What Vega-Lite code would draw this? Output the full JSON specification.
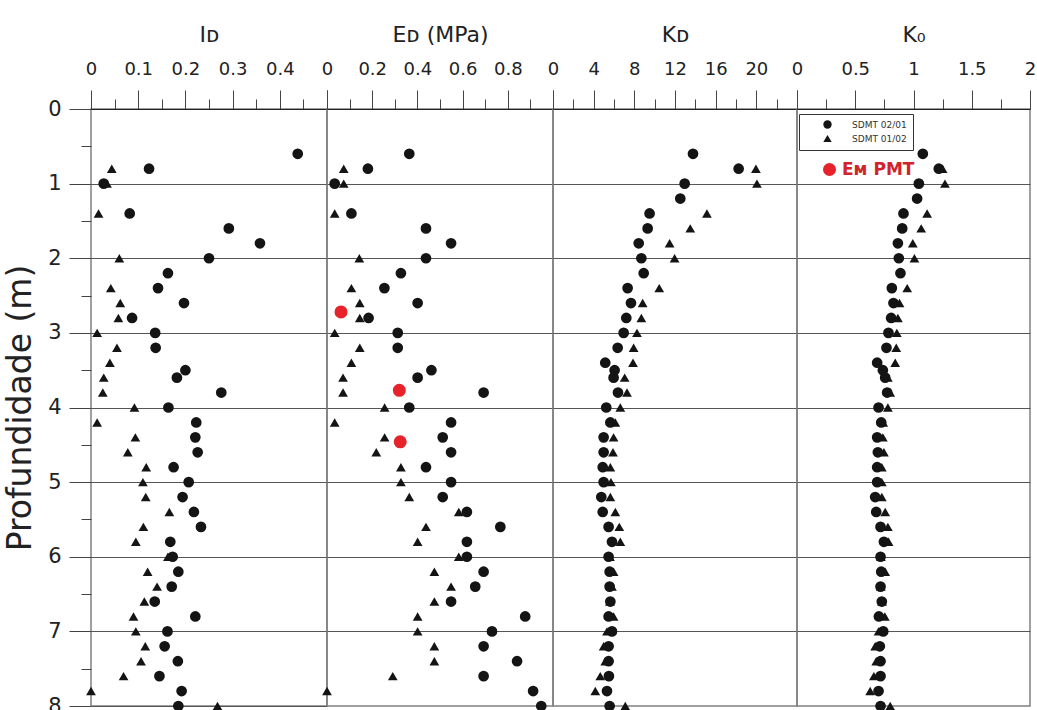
{
  "$schema": "https://vega.github.io/schema/vega-lite/v6.json",
  "padding": {"left": 3, "top": 22, "right": 2, "bottom": 0},
  "autosize": {"type": "pad"},
  "spacing": 0,
  "bounds": "flush",
  "config": {
    "view": {"stroke": "#808080", "strokeWidth": 1.5},
    "axis": {"labelFont": "DejaVu Sans", "titleFont": "DejaVu Sans", "labelColor": "#222", "titleColor": "#222", "titleFontWeight": "normal", "tickColor": "#444", "domainColor": "#222", "labelOverlap": false, "labelFlush": false, "labelBound": false},
    "legend": {"labelFont": "DejaVu Sans"}
  },
  "datasets": {
    "ID": [
      {"series":"SDMT 01/02","method":"SDMT","depth":0.8,"value":0.044},
      {"series":"SDMT 01/02","method":"SDMT","depth":1.0,"value":0.034},
      {"series":"SDMT 01/02","method":"SDMT","depth":1.4,"value":0.016},
      {"series":"SDMT 01/02","method":"SDMT","depth":2.0,"value":0.06},
      {"series":"SDMT 01/02","method":"SDMT","depth":2.4,"value":0.042},
      {"series":"SDMT 01/02","method":"SDMT","depth":2.6,"value":0.062},
      {"series":"SDMT 01/02","method":"SDMT","depth":2.8,"value":0.058},
      {"series":"SDMT 01/02","method":"SDMT","depth":3.0,"value":0.013},
      {"series":"SDMT 01/02","method":"SDMT","depth":3.2,"value":0.055},
      {"series":"SDMT 01/02","method":"SDMT","depth":3.4,"value":0.04},
      {"series":"SDMT 01/02","method":"SDMT","depth":3.6,"value":0.027},
      {"series":"SDMT 01/02","method":"SDMT","depth":3.8,"value":0.025},
      {"series":"SDMT 01/02","method":"SDMT","depth":4.0,"value":0.092},
      {"series":"SDMT 01/02","method":"SDMT","depth":4.2,"value":0.013},
      {"series":"SDMT 01/02","method":"SDMT","depth":4.4,"value":0.094},
      {"series":"SDMT 01/02","method":"SDMT","depth":4.6,"value":0.078},
      {"series":"SDMT 01/02","method":"SDMT","depth":4.8,"value":0.117},
      {"series":"SDMT 01/02","method":"SDMT","depth":5.0,"value":0.11},
      {"series":"SDMT 01/02","method":"SDMT","depth":5.2,"value":0.116},
      {"series":"SDMT 01/02","method":"SDMT","depth":5.4,"value":0.166},
      {"series":"SDMT 01/02","method":"SDMT","depth":5.6,"value":0.111},
      {"series":"SDMT 01/02","method":"SDMT","depth":5.8,"value":0.095},
      {"series":"SDMT 01/02","method":"SDMT","depth":6.0,"value":0.163},
      {"series":"SDMT 01/02","method":"SDMT","depth":6.2,"value":0.12},
      {"series":"SDMT 01/02","method":"SDMT","depth":6.4,"value":0.14},
      {"series":"SDMT 01/02","method":"SDMT","depth":6.6,"value":0.113},
      {"series":"SDMT 01/02","method":"SDMT","depth":6.8,"value":0.09},
      {"series":"SDMT 01/02","method":"SDMT","depth":7.0,"value":0.095},
      {"series":"SDMT 01/02","method":"SDMT","depth":7.2,"value":0.115},
      {"series":"SDMT 01/02","method":"SDMT","depth":7.4,"value":0.106},
      {"series":"SDMT 01/02","method":"SDMT","depth":7.6,"value":0.069},
      {"series":"SDMT 01/02","method":"SDMT","depth":7.8,"value":0.0},
      {"series":"SDMT 01/02","method":"SDMT","depth":8.0,"value":0.268},
      {"series":"SDMT 02/01","method":"SDMT","depth":0.6,"value":0.438},
      {"series":"SDMT 02/01","method":"SDMT","depth":0.8,"value":0.123},
      {"series":"SDMT 02/01","method":"SDMT","depth":1.0,"value":0.027},
      {"series":"SDMT 02/01","method":"SDMT","depth":1.4,"value":0.082},
      {"series":"SDMT 02/01","method":"SDMT","depth":1.6,"value":0.292},
      {"series":"SDMT 02/01","method":"SDMT","depth":1.8,"value":0.358},
      {"series":"SDMT 02/01","method":"SDMT","depth":2.0,"value":0.25},
      {"series":"SDMT 02/01","method":"SDMT","depth":2.2,"value":0.163},
      {"series":"SDMT 02/01","method":"SDMT","depth":2.4,"value":0.142},
      {"series":"SDMT 02/01","method":"SDMT","depth":2.6,"value":0.197},
      {"series":"SDMT 02/01","method":"SDMT","depth":2.8,"value":0.087},
      {"series":"SDMT 02/01","method":"SDMT","depth":3.0,"value":0.136},
      {"series":"SDMT 02/01","method":"SDMT","depth":3.2,"value":0.137},
      {"series":"SDMT 02/01","method":"SDMT","depth":3.5,"value":0.2},
      {"series":"SDMT 02/01","method":"SDMT","depth":3.6,"value":0.182},
      {"series":"SDMT 02/01","method":"SDMT","depth":3.8,"value":0.276},
      {"series":"SDMT 02/01","method":"SDMT","depth":4.0,"value":0.164},
      {"series":"SDMT 02/01","method":"SDMT","depth":4.2,"value":0.223},
      {"series":"SDMT 02/01","method":"SDMT","depth":4.4,"value":0.221},
      {"series":"SDMT 02/01","method":"SDMT","depth":4.6,"value":0.226},
      {"series":"SDMT 02/01","method":"SDMT","depth":4.8,"value":0.175},
      {"series":"SDMT 02/01","method":"SDMT","depth":5.0,"value":0.207},
      {"series":"SDMT 02/01","method":"SDMT","depth":5.2,"value":0.194},
      {"series":"SDMT 02/01","method":"SDMT","depth":5.4,"value":0.218},
      {"series":"SDMT 02/01","method":"SDMT","depth":5.6,"value":0.233},
      {"series":"SDMT 02/01","method":"SDMT","depth":5.8,"value":0.168},
      {"series":"SDMT 02/01","method":"SDMT","depth":6.0,"value":0.173},
      {"series":"SDMT 02/01","method":"SDMT","depth":6.2,"value":0.185},
      {"series":"SDMT 02/01","method":"SDMT","depth":6.4,"value":0.171},
      {"series":"SDMT 02/01","method":"SDMT","depth":6.6,"value":0.135},
      {"series":"SDMT 02/01","method":"SDMT","depth":6.8,"value":0.221},
      {"series":"SDMT 02/01","method":"SDMT","depth":7.0,"value":0.162},
      {"series":"SDMT 02/01","method":"SDMT","depth":7.2,"value":0.156},
      {"series":"SDMT 02/01","method":"SDMT","depth":7.4,"value":0.184},
      {"series":"SDMT 02/01","method":"SDMT","depth":7.6,"value":0.145},
      {"series":"SDMT 02/01","method":"SDMT","depth":7.8,"value":0.192},
      {"series":"SDMT 02/01","method":"SDMT","depth":8.0,"value":0.185}
    ],
    "ED": [
      {"series":"SDMT 01/02","method":"SDMT","depth":0.8,"value":0.074},
      {"series":"SDMT 01/02","method":"SDMT","depth":1.0,"value":0.074},
      {"series":"SDMT 01/02","method":"SDMT","depth":1.4,"value":0.034},
      {"series":"SDMT 01/02","method":"SDMT","depth":2.0,"value":0.143},
      {"series":"SDMT 01/02","method":"SDMT","depth":2.4,"value":0.108},
      {"series":"SDMT 01/02","method":"SDMT","depth":2.6,"value":0.145},
      {"series":"SDMT 01/02","method":"SDMT","depth":2.8,"value":0.145},
      {"series":"SDMT 01/02","method":"SDMT","depth":3.0,"value":0.034},
      {"series":"SDMT 01/02","method":"SDMT","depth":3.2,"value":0.145},
      {"series":"SDMT 01/02","method":"SDMT","depth":3.4,"value":0.108},
      {"series":"SDMT 01/02","method":"SDMT","depth":3.6,"value":0.071},
      {"series":"SDMT 01/02","method":"SDMT","depth":3.8,"value":0.071},
      {"series":"SDMT 01/02","method":"SDMT","depth":4.0,"value":0.255},
      {"series":"SDMT 01/02","method":"SDMT","depth":4.2,"value":0.034},
      {"series":"SDMT 01/02","method":"SDMT","depth":4.4,"value":0.255},
      {"series":"SDMT 01/02","method":"SDMT","depth":4.6,"value":0.218},
      {"series":"SDMT 01/02","method":"SDMT","depth":4.8,"value":0.327},
      {"series":"SDMT 01/02","method":"SDMT","depth":5.0,"value":0.327},
      {"series":"SDMT 01/02","method":"SDMT","depth":5.2,"value":0.364},
      {"series":"SDMT 01/02","method":"SDMT","depth":5.4,"value":0.583},
      {"series":"SDMT 01/02","method":"SDMT","depth":5.6,"value":0.438},
      {"series":"SDMT 01/02","method":"SDMT","depth":5.8,"value":0.401},
      {"series":"SDMT 01/02","method":"SDMT","depth":6.0,"value":0.583},
      {"series":"SDMT 01/02","method":"SDMT","depth":6.2,"value":0.475},
      {"series":"SDMT 01/02","method":"SDMT","depth":6.4,"value":0.549},
      {"series":"SDMT 01/02","method":"SDMT","depth":6.6,"value":0.475},
      {"series":"SDMT 01/02","method":"SDMT","depth":6.8,"value":0.401},
      {"series":"SDMT 01/02","method":"SDMT","depth":7.0,"value":0.401},
      {"series":"SDMT 01/02","method":"SDMT","depth":7.2,"value":0.475},
      {"series":"SDMT 01/02","method":"SDMT","depth":7.4,"value":0.475},
      {"series":"SDMT 01/02","method":"SDMT","depth":7.6,"value":0.291},
      {"series":"SDMT 01/02","method":"SDMT","depth":7.8,"value":0.0},
      {"series":"SDMT 02/01","method":"SDMT","depth":0.6,"value":0.364},
      {"series":"SDMT 02/01","method":"SDMT","depth":0.8,"value":0.181},
      {"series":"SDMT 02/01","method":"SDMT","depth":1.0,"value":0.034},
      {"series":"SDMT 02/01","method":"SDMT","depth":1.4,"value":0.108},
      {"series":"SDMT 02/01","method":"SDMT","depth":1.6,"value":0.438},
      {"series":"SDMT 02/01","method":"SDMT","depth":1.8,"value":0.549},
      {"series":"SDMT 02/01","method":"SDMT","depth":2.0,"value":0.438},
      {"series":"SDMT 02/01","method":"SDMT","depth":2.2,"value":0.327},
      {"series":"SDMT 02/01","method":"SDMT","depth":2.4,"value":0.254},
      {"series":"SDMT 02/01","method":"SDMT","depth":2.6,"value":0.401},
      {"series":"SDMT 02/01","method":"SDMT","depth":2.8,"value":0.184},
      {"series":"SDMT 02/01","method":"SDMT","depth":3.0,"value":0.313},
      {"series":"SDMT 02/01","method":"SDMT","depth":3.2,"value":0.313},
      {"series":"SDMT 02/01","method":"SDMT","depth":3.5,"value":0.462},
      {"series":"SDMT 02/01","method":"SDMT","depth":3.6,"value":0.401},
      {"series":"SDMT 02/01","method":"SDMT","depth":3.8,"value":0.693},
      {"series":"SDMT 02/01","method":"SDMT","depth":4.0,"value":0.364},
      {"series":"SDMT 02/01","method":"SDMT","depth":4.2,"value":0.549},
      {"series":"SDMT 02/01","method":"SDMT","depth":4.4,"value":0.512},
      {"series":"SDMT 02/01","method":"SDMT","depth":4.6,"value":0.549},
      {"series":"SDMT 02/01","method":"SDMT","depth":4.8,"value":0.438},
      {"series":"SDMT 02/01","method":"SDMT","depth":5.0,"value":0.549},
      {"series":"SDMT 02/01","method":"SDMT","depth":5.2,"value":0.512},
      {"series":"SDMT 02/01","method":"SDMT","depth":5.4,"value":0.619},
      {"series":"SDMT 02/01","method":"SDMT","depth":5.6,"value":0.767},
      {"series":"SDMT 02/01","method":"SDMT","depth":5.8,"value":0.619},
      {"series":"SDMT 02/01","method":"SDMT","depth":6.0,"value":0.619},
      {"series":"SDMT 02/01","method":"SDMT","depth":6.2,"value":0.693},
      {"series":"SDMT 02/01","method":"SDMT","depth":6.4,"value":0.656},
      {"series":"SDMT 02/01","method":"SDMT","depth":6.6,"value":0.549},
      {"series":"SDMT 02/01","method":"SDMT","depth":6.8,"value":0.877},
      {"series":"SDMT 02/01","method":"SDMT","depth":7.0,"value":0.73},
      {"series":"SDMT 02/01","method":"SDMT","depth":7.2,"value":0.693},
      {"series":"SDMT 02/01","method":"SDMT","depth":7.4,"value":0.841},
      {"series":"SDMT 02/01","method":"SDMT","depth":7.6,"value":0.693},
      {"series":"SDMT 02/01","method":"SDMT","depth":7.8,"value":0.912},
      {"series":"SDMT 02/01","method":"SDMT","depth":8.0,"value":0.948},
      {"series":"Eᴍ PMT","method":"Eᴍ PMT","depth":2.72,"value":0.062},
      {"series":"Eᴍ PMT","method":"Eᴍ PMT","depth":3.77,"value":0.32},
      {"series":"Eᴍ PMT","method":"Eᴍ PMT","depth":4.46,"value":0.324}
    ],
    "KD": [
      {"series":"SDMT 01/02","method":"SDMT","depth":0.8,"value":19.96},
      {"series":"SDMT 01/02","method":"SDMT","depth":1.0,"value":20.06},
      {"series":"SDMT 01/02","method":"SDMT","depth":1.4,"value":15.14},
      {"series":"SDMT 01/02","method":"SDMT","depth":1.6,"value":13.5},
      {"series":"SDMT 01/02","method":"SDMT","depth":1.8,"value":11.47},
      {"series":"SDMT 01/02","method":"SDMT","depth":2.0,"value":11.96},
      {"series":"SDMT 01/02","method":"SDMT","depth":2.4,"value":10.45},
      {"series":"SDMT 01/02","method":"SDMT","depth":2.6,"value":8.82},
      {"series":"SDMT 01/02","method":"SDMT","depth":2.8,"value":8.69},
      {"series":"SDMT 01/02","method":"SDMT","depth":3.0,"value":8.26},
      {"series":"SDMT 01/02","method":"SDMT","depth":3.2,"value":7.93},
      {"series":"SDMT 01/02","method":"SDMT","depth":3.4,"value":7.87},
      {"series":"SDMT 01/02","method":"SDMT","depth":3.6,"value":7.05},
      {"series":"SDMT 01/02","method":"SDMT","depth":3.8,"value":7.28},
      {"series":"SDMT 01/02","method":"SDMT","depth":4.0,"value":6.62},
      {"series":"SDMT 01/02","method":"SDMT","depth":4.2,"value":6.13},
      {"series":"SDMT 01/02","method":"SDMT","depth":4.4,"value":5.96},
      {"series":"SDMT 01/02","method":"SDMT","depth":4.6,"value":5.9},
      {"series":"SDMT 01/02","method":"SDMT","depth":4.8,"value":5.64},
      {"series":"SDMT 01/02","method":"SDMT","depth":5.0,"value":5.7},
      {"series":"SDMT 01/02","method":"SDMT","depth":5.2,"value":5.64},
      {"series":"SDMT 01/02","method":"SDMT","depth":5.4,"value":6.13},
      {"series":"SDMT 01/02","method":"SDMT","depth":5.6,"value":6.52},
      {"series":"SDMT 01/02","method":"SDMT","depth":5.8,"value":6.62},
      {"series":"SDMT 01/02","method":"SDMT","depth":6.0,"value":5.6},
      {"series":"SDMT 01/02","method":"SDMT","depth":6.2,"value":5.96},
      {"series":"SDMT 01/02","method":"SDMT","depth":6.4,"value":5.8},
      {"series":"SDMT 01/02","method":"SDMT","depth":6.6,"value":5.6},
      {"series":"SDMT 01/02","method":"SDMT","depth":6.8,"value":5.96},
      {"series":"SDMT 01/02","method":"SDMT","depth":7.0,"value":5.31},
      {"series":"SDMT 01/02","method":"SDMT","depth":7.2,"value":4.98},
      {"series":"SDMT 01/02","method":"SDMT","depth":7.4,"value":5.14},
      {"series":"SDMT 01/02","method":"SDMT","depth":7.6,"value":4.65},
      {"series":"SDMT 01/02","method":"SDMT","depth":7.8,"value":4.16},
      {"series":"SDMT 01/02","method":"SDMT","depth":8.0,"value":7.11},
      {"series":"SDMT 02/01","method":"SDMT","depth":0.6,"value":13.77},
      {"series":"SDMT 02/01","method":"SDMT","depth":0.8,"value":18.26},
      {"series":"SDMT 02/01","method":"SDMT","depth":1.0,"value":12.95},
      {"series":"SDMT 02/01","method":"SDMT","depth":1.2,"value":12.52},
      {"series":"SDMT 02/01","method":"SDMT","depth":1.4,"value":9.5},
      {"series":"SDMT 02/01","method":"SDMT","depth":1.6,"value":9.31},
      {"series":"SDMT 02/01","method":"SDMT","depth":1.8,"value":8.43},
      {"series":"SDMT 02/01","method":"SDMT","depth":2.0,"value":8.69},
      {"series":"SDMT 02/01","method":"SDMT","depth":2.2,"value":8.92},
      {"series":"SDMT 02/01","method":"SDMT","depth":2.4,"value":7.34},
      {"series":"SDMT 02/01","method":"SDMT","depth":2.6,"value":7.67},
      {"series":"SDMT 02/01","method":"SDMT","depth":2.8,"value":7.21},
      {"series":"SDMT 02/01","method":"SDMT","depth":3.0,"value":6.95},
      {"series":"SDMT 02/01","method":"SDMT","depth":3.2,"value":6.36},
      {"series":"SDMT 02/01","method":"SDMT","depth":3.4,"value":5.14},
      {"series":"SDMT 02/01","method":"SDMT","depth":3.5,"value":6.06},
      {"series":"SDMT 02/01","method":"SDMT","depth":3.6,"value":5.96},
      {"series":"SDMT 02/01","method":"SDMT","depth":3.8,"value":6.39},
      {"series":"SDMT 02/01","method":"SDMT","depth":4.0,"value":5.24},
      {"series":"SDMT 02/01","method":"SDMT","depth":4.2,"value":5.64},
      {"series":"SDMT 02/01","method":"SDMT","depth":4.4,"value":4.98},
      {"series":"SDMT 02/01","method":"SDMT","depth":4.6,"value":4.98},
      {"series":"SDMT 02/01","method":"SDMT","depth":4.8,"value":4.89},
      {"series":"SDMT 02/01","method":"SDMT","depth":5.0,"value":4.98},
      {"series":"SDMT 02/01","method":"SDMT","depth":5.2,"value":4.75},
      {"series":"SDMT 02/01","method":"SDMT","depth":5.4,"value":4.89},
      {"series":"SDMT 02/01","method":"SDMT","depth":5.6,"value":5.47},
      {"series":"SDMT 02/01","method":"SDMT","depth":5.8,"value":5.8},
      {"series":"SDMT 02/01","method":"SDMT","depth":6.0,"value":5.47},
      {"series":"SDMT 02/01","method":"SDMT","depth":6.2,"value":5.57},
      {"series":"SDMT 02/01","method":"SDMT","depth":6.4,"value":5.57},
      {"series":"SDMT 02/01","method":"SDMT","depth":6.6,"value":5.64},
      {"series":"SDMT 02/01","method":"SDMT","depth":6.8,"value":5.47},
      {"series":"SDMT 02/01","method":"SDMT","depth":7.0,"value":5.8},
      {"series":"SDMT 02/01","method":"SDMT","depth":7.2,"value":5.47},
      {"series":"SDMT 02/01","method":"SDMT","depth":7.4,"value":5.47},
      {"series":"SDMT 02/01","method":"SDMT","depth":7.6,"value":5.5},
      {"series":"SDMT 02/01","method":"SDMT","depth":7.8,"value":5.31},
      {"series":"SDMT 02/01","method":"SDMT","depth":8.0,"value":5.57}
    ],
    "K0": [
      {"series":"SDMT 01/02","method":"SDMT","depth":0.8,"value":1.25},
      {"series":"SDMT 01/02","method":"SDMT","depth":1.0,"value":1.27},
      {"series":"SDMT 01/02","method":"SDMT","depth":1.4,"value":1.117},
      {"series":"SDMT 01/02","method":"SDMT","depth":1.6,"value":1.066},
      {"series":"SDMT 01/02","method":"SDMT","depth":1.8,"value":0.994},
      {"series":"SDMT 01/02","method":"SDMT","depth":2.0,"value":1.008},
      {"series":"SDMT 01/02","method":"SDMT","depth":2.4,"value":0.946},
      {"series":"SDMT 01/02","method":"SDMT","depth":2.6,"value":0.88},
      {"series":"SDMT 01/02","method":"SDMT","depth":2.8,"value":0.866},
      {"series":"SDMT 01/02","method":"SDMT","depth":3.0,"value":0.857},
      {"series":"SDMT 01/02","method":"SDMT","depth":3.2,"value":0.852},
      {"series":"SDMT 01/02","method":"SDMT","depth":3.4,"value":0.843},
      {"series":"SDMT 01/02","method":"SDMT","depth":3.6,"value":0.78},
      {"series":"SDMT 01/02","method":"SDMT","depth":3.8,"value":0.8},
      {"series":"SDMT 01/02","method":"SDMT","depth":4.0,"value":0.78},
      {"series":"SDMT 01/02","method":"SDMT","depth":4.2,"value":0.74},
      {"series":"SDMT 01/02","method":"SDMT","depth":4.4,"value":0.737},
      {"series":"SDMT 01/02","method":"SDMT","depth":4.6,"value":0.746},
      {"series":"SDMT 01/02","method":"SDMT","depth":4.8,"value":0.728},
      {"series":"SDMT 01/02","method":"SDMT","depth":5.0,"value":0.728},
      {"series":"SDMT 01/02","method":"SDMT","depth":5.2,"value":0.728},
      {"series":"SDMT 01/02","method":"SDMT","depth":5.4,"value":0.757},
      {"series":"SDMT 01/02","method":"SDMT","depth":5.6,"value":0.78},
      {"series":"SDMT 01/02","method":"SDMT","depth":5.8,"value":0.786},
      {"series":"SDMT 01/02","method":"SDMT","depth":6.0,"value":0.72},
      {"series":"SDMT 01/02","method":"SDMT","depth":6.2,"value":0.757},
      {"series":"SDMT 01/02","method":"SDMT","depth":6.4,"value":0.72},
      {"series":"SDMT 01/02","method":"SDMT","depth":6.6,"value":0.73},
      {"series":"SDMT 01/02","method":"SDMT","depth":6.8,"value":0.754},
      {"series":"SDMT 01/02","method":"SDMT","depth":7.0,"value":0.70},
      {"series":"SDMT 01/02","method":"SDMT","depth":7.2,"value":0.671},
      {"series":"SDMT 01/02","method":"SDMT","depth":7.4,"value":0.68},
      {"series":"SDMT 01/02","method":"SDMT","depth":7.6,"value":0.66},
      {"series":"SDMT 01/02","method":"SDMT","depth":7.8,"value":0.628},
      {"series":"SDMT 01/02","method":"SDMT","depth":8.0,"value":0.8},
      {"series":"SDMT 02/01","method":"SDMT","depth":0.6,"value":1.08},
      {"series":"SDMT 02/01","method":"SDMT","depth":0.8,"value":1.217},
      {"series":"SDMT 02/01","method":"SDMT","depth":1.0,"value":1.046},
      {"series":"SDMT 02/01","method":"SDMT","depth":1.2,"value":1.031},
      {"series":"SDMT 02/01","method":"SDMT","depth":1.4,"value":0.914},
      {"series":"SDMT 02/01","method":"SDMT","depth":1.6,"value":0.903},
      {"series":"SDMT 02/01","method":"SDMT","depth":1.8,"value":0.866},
      {"series":"SDMT 02/01","method":"SDMT","depth":2.0,"value":0.874},
      {"series":"SDMT 02/01","method":"SDMT","depth":2.2,"value":0.888},
      {"series":"SDMT 02/01","method":"SDMT","depth":2.4,"value":0.814},
      {"series":"SDMT 02/01","method":"SDMT","depth":2.6,"value":0.828},
      {"series":"SDMT 02/01","method":"SDMT","depth":2.8,"value":0.808},
      {"series":"SDMT 02/01","method":"SDMT","depth":3.0,"value":0.785},
      {"series":"SDMT 02/01","method":"SDMT","depth":3.2,"value":0.768},
      {"series":"SDMT 02/01","method":"SDMT","depth":3.4,"value":0.688},
      {"series":"SDMT 02/01","method":"SDMT","depth":3.5,"value":0.737},
      {"series":"SDMT 02/01","method":"SDMT","depth":3.6,"value":0.757},
      {"series":"SDMT 02/01","method":"SDMT","depth":3.8,"value":0.774},
      {"series":"SDMT 02/01","method":"SDMT","depth":4.0,"value":0.70},
      {"series":"SDMT 02/01","method":"SDMT","depth":4.2,"value":0.723},
      {"series":"SDMT 02/01","method":"SDMT","depth":4.4,"value":0.688},
      {"series":"SDMT 02/01","method":"SDMT","depth":4.6,"value":0.694},
      {"series":"SDMT 02/01","method":"SDMT","depth":4.8,"value":0.688},
      {"series":"SDMT 02/01","method":"SDMT","depth":5.0,"value":0.688},
      {"series":"SDMT 02/01","method":"SDMT","depth":5.2,"value":0.671},
      {"series":"SDMT 02/01","method":"SDMT","depth":5.4,"value":0.68},
      {"series":"SDMT 02/01","method":"SDMT","depth":5.6,"value":0.717},
      {"series":"SDMT 02/01","method":"SDMT","depth":5.8,"value":0.746},
      {"series":"SDMT 02/01","method":"SDMT","depth":6.0,"value":0.717},
      {"series":"SDMT 02/01","method":"SDMT","depth":6.2,"value":0.723},
      {"series":"SDMT 02/01","method":"SDMT","depth":6.4,"value":0.717},
      {"series":"SDMT 02/01","method":"SDMT","depth":6.6,"value":0.728},
      {"series":"SDMT 02/01","method":"SDMT","depth":6.8,"value":0.703},
      {"series":"SDMT 02/01","method":"SDMT","depth":7.0,"value":0.74},
      {"series":"SDMT 02/01","method":"SDMT","depth":7.2,"value":0.711},
      {"series":"SDMT 02/01","method":"SDMT","depth":7.4,"value":0.717},
      {"series":"SDMT 02/01","method":"SDMT","depth":7.6,"value":0.717},
      {"series":"SDMT 02/01","method":"SDMT","depth":7.8,"value":0.70},
      {"series":"SDMT 02/01","method":"SDMT","depth":8.0,"value":0.717}
    ]
  },
  "resolve": {
    "scale": {"x": "independent", "y": "independent", "color": "shared", "shape": "shared"},
    "axis": {"x": "independent", "y": "independent"},
    "legend": {"color": "independent", "shape": "independent"}
  },
  "hconcat": [
    {
      "width": 236, "height": 597,
      "data": {"name": "ID"},
      "mark": {"type": "point", "filled": true, "opacity": 1, "strokeWidth": 0},
      "encoding": {
        "x": {"field": "value", "type": "quantitative", "scale": {"domain": [0, 0.5], "nice": false, "zero": false},
          "axis": {"orient": "top", "title": "Iᴅ", "grid": false, "values": [0,0.05,0.1,0.15,0.2,0.25,0.3,0.35,0.4,0.45,0.5],
            "labelExpr": "abs(datum.value*10-round(datum.value*10))<0.001 && datum.value<0.49 ? ''+datum.value : ''",
            "tickSize": {"condition": {"test": "abs(datum.value*10-round(datum.value*10))<0.001", "value": 19}, "value": 10},
            "labelFontSize": 18, "labelPadding": 12, "titleFontSize": 22, "titlePadding": 14}},
        "y": {"field": "depth", "type": "quantitative", "scale": {"domain": [0, 8], "reverse": true, "nice": false, "zero": false},
          "axis": {"title": "Profundidade (m)", "values": [0,0.5,1,1.5,2,2.5,3,3.5,4,4.5,5,5.5,6,6.5,7,7.5,8],
            "labelExpr": "datum.value % 1 === 0 ? ''+datum.value : ''",
            "tickSize": {"condition": {"test": "datum.value % 1 === 0", "value": 22}, "value": 10},
            "grid": true, "gridColor": "#555",
            "gridOpacity": {"condition": {"test": "datum.value % 1 === 0", "value": 1}, "value": 0},
            "domain": false, "labelFontSize": 21, "labelPadding": 8, "titleFontSize": 33, "titlePadding": 10}},
        "shape": {"field": "series", "type": "nominal", "scale": {"domain": ["SDMT 02/01","SDMT 01/02","Eᴍ PMT"], "range": ["circle","triangle-up","circle"]}, "legend": null},
        "color": {"field": "method", "type": "nominal", "scale": {"domain": ["SDMT","Eᴍ PMT"], "range": ["#141414","#e8222a"]}, "legend": null},
        "size": {"condition": [{"test": "datum.method === 'Eᴍ PMT'", "value": 170}, {"test": "datum.series === 'SDMT 01/02'", "value": 95}], "value": 115}
      }
    },
    {
      "width": 226, "height": 597,
      "data": {"name": "ED"},
      "mark": {"type": "point", "filled": true, "opacity": 1, "strokeWidth": 0},
      "encoding": {
        "x": {"field": "value", "type": "quantitative", "scale": {"domain": [0, 1], "nice": false, "zero": false},
          "axis": {"orient": "top", "title": "Eᴅ (MPa)", "grid": false, "values": [0,0.1,0.2,0.3,0.4,0.5,0.6,0.7,0.8,0.9,1],
            "labelExpr": "abs(datum.value*5-round(datum.value*5))<0.001 && datum.value<0.99 ? ''+datum.value : ''",
            "tickSize": {"condition": {"test": "abs(datum.value*5-round(datum.value*5))<0.001", "value": 19}, "value": 10},
            "labelFontSize": 18, "labelPadding": 12, "titleFontSize": 22, "titlePadding": 14}},
        "y": {"field": "depth", "type": "quantitative", "scale": {"domain": [0, 8], "reverse": true, "nice": false, "zero": false},
          "axis": {"title": null, "values": [1,2,3,4,5,6,7], "labels": false, "ticks": false, "domain": false, "grid": true, "gridColor": "#555"}},
        "shape": {"field": "series", "type": "nominal", "scale": {"domain": ["SDMT 02/01","SDMT 01/02","Eᴍ PMT"], "range": ["circle","triangle-up","circle"]}, "legend": null},
        "color": {"field": "method", "type": "nominal", "scale": {"domain": ["SDMT","Eᴍ PMT"], "range": ["#141414","#e8222a"]}, "legend": null},
        "size": {"condition": [{"test": "datum.method === 'Eᴍ PMT'", "value": 170}, {"test": "datum.series === 'SDMT 01/02'", "value": 95}], "value": 115}
      }
    },
    {
      "width": 244, "height": 597,
      "data": {"name": "KD"},
      "mark": {"type": "point", "filled": true, "opacity": 1, "strokeWidth": 0},
      "encoding": {
        "x": {"field": "value", "type": "quantitative", "scale": {"domain": [0, 24], "nice": false, "zero": false},
          "axis": {"orient": "top", "title": "Kᴅ", "grid": false, "values": [0,2,4,6,8,10,12,14,16,18,20,22,24],
            "labelExpr": "datum.value % 4 === 0 && datum.value < 23 ? ''+datum.value : ''",
            "tickSize": {"condition": {"test": "datum.value % 4 === 0", "value": 19}, "value": 10},
            "labelFontSize": 18, "labelPadding": 12, "titleFontSize": 22, "titlePadding": 14}},
        "y": {"field": "depth", "type": "quantitative", "scale": {"domain": [0, 8], "reverse": true, "nice": false, "zero": false},
          "axis": {"title": null, "values": [1,2,3,4,5,6,7], "labels": false, "ticks": false, "domain": false, "grid": true, "gridColor": "#555"}},
        "shape": {"field": "series", "type": "nominal", "scale": {"domain": ["SDMT 02/01","SDMT 01/02","Eᴍ PMT"], "range": ["circle","triangle-up","circle"]}, "legend": null},
        "color": {"field": "method", "type": "nominal", "scale": {"domain": ["SDMT","Eᴍ PMT"], "range": ["#141414","#e8222a"]}, "legend": null},
        "size": {"condition": [{"test": "datum.method === 'Eᴍ PMT'", "value": 170}, {"test": "datum.series === 'SDMT 01/02'", "value": 95}], "value": 115}
      }
    },
    {
      "width": 233, "height": 597,
      "data": {"name": "K0"},
      "mark": {"type": "point", "filled": true, "opacity": 1, "strokeWidth": 0},
      "encoding": {
        "x": {"field": "value", "type": "quantitative", "scale": {"domain": [0, 2], "nice": false, "zero": false},
          "axis": {"orient": "top", "title": "K₀", "grid": false, "values": [0,0.25,0.5,0.75,1,1.25,1.5,1.75,2],
            "labelExpr": "abs(datum.value*2-round(datum.value*2))<0.001 ? ''+datum.value : ''",
            "tickSize": {"condition": {"test": "abs(datum.value*2-round(datum.value*2))<0.001", "value": 19}, "value": 10},
            "labelFontSize": 18, "labelPadding": 12, "titleFontSize": 22, "titlePadding": 14}},
        "y": {"field": "depth", "type": "quantitative", "scale": {"domain": [0, 8], "reverse": true, "nice": false, "zero": false},
          "axis": {"title": null, "values": [1,2,3,4,5,6,7], "labels": false, "ticks": false, "domain": false, "grid": true, "gridColor": "#555"}},
        "shape": {"field": "series", "type": "nominal", "scale": {"domain": ["SDMT 02/01","SDMT 01/02","Eᴍ PMT"], "range": ["circle","triangle-up","circle"]},
          "legend": {"orient": "none", "legendX": 2, "legendY": 5, "title": null, "values": ["SDMT 02/01","SDMT 01/02"], "strokeColor": "#333", "fillColor": "white", "padding": 6, "labelFontSize": 9, "labelColor": "#333", "symbolSize": 70, "symbolFillColor": "#141414", "symbolStrokeColor": "#141414", "symbolStrokeWidth": 0, "symbolOffset": 18, "labelOffset": 20, "rowPadding": 4}},
        "color": {"field": "method", "type": "nominal", "scale": {"domain": ["SDMT","Eᴍ PMT"], "range": ["#141414","#e8222a"]},
          "legend": {"orient": "none", "legendX": 24, "legendY": 52, "title": null, "values": ["Eᴍ PMT"], "padding": 0, "labelFontSize": 17, "labelFontWeight": "bold", "labelColor": "#d2232a", "symbolSize": 170, "symbolType": "circle", "labelOffset": 4}},
        "size": {"condition": [{"test": "datum.method === 'Eᴍ PMT'", "value": 170}, {"test": "datum.series === 'SDMT 01/02'", "value": 95}], "value": 115}
      }
    }
  ]
}
